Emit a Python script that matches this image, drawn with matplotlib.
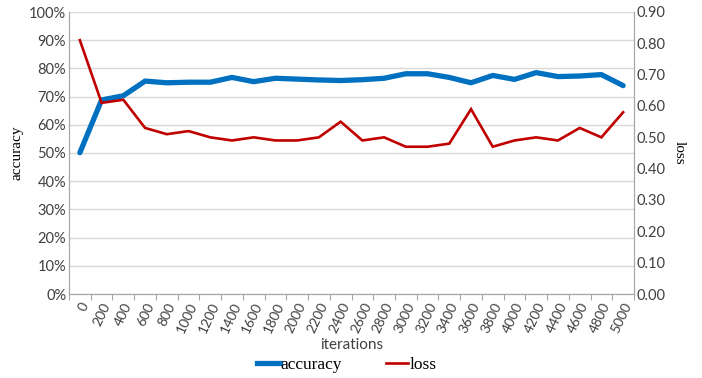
import numpy as np
import matplotlib
matplotlib.use("Agg")
import matplotlib.pyplot as plt
from matplotlib.ticker import FuncFormatter, FixedLocator
from matplotlib.lines import Line2D

# training log, one point every 200 iterations
iterations = list(range(0, 5001, 200))
accuracy = [50.1, 68.8, 70.3, 75.5, 74.9, 75.1, 75.1, 76.8, 75.3, 76.5, 76.2, 75.9, 75.7,
            76.0, 76.5, 78.1, 78.1, 76.8, 74.9, 77.5, 76.1, 78.5, 77.1, 77.3, 77.8, 73.9]
loss = [0.81, 0.61, 0.62, 0.53, 0.51, 0.52, 0.50, 0.49, 0.50, 0.49, 0.49, 0.50, 0.55,
        0.49, 0.50, 0.47, 0.47, 0.48, 0.59, 0.47, 0.49, 0.50, 0.49, 0.53, 0.50, 0.58]

tick_font = "Lato"
serif_font = "Liberation Serif"
grid_col = "#D9D9D9"
axis_col = "#A6A6A6"
blue = "#0070C0"
red = "#C00000"

fig = plt.figure(figsize=(7.02, 3.78), dpi=100)
ax = fig.add_axes([69 / 702, 1 - 294 / 378, (634 - 69) / 702, (294 - 12) / 378])
ax2 = ax.twinx()

x = np.arange(len(iterations))
ax.plot(x, accuracy, color=blue, lw=3.8, solid_capstyle="round", solid_joinstyle="round", zorder=3)
ax2.plot(x, loss, color=red, lw=1.9, solid_joinstyle="miter", zorder=3)

ax.set_xlim(-0.5, len(iterations) - 0.5)
ax.set_ylim(0, 100)
ax2.set_ylim(0, 0.9)

ax.set_yticks(np.arange(0, 101, 10))
ax.yaxis.set_major_formatter(FuncFormatter(lambda v, p: f"{v:.0f}%"))
ax2.set_yticks(np.arange(0, 0.91, 0.1))
ax2.yaxis.set_major_formatter(FuncFormatter(lambda v, p: f"{v:.2f}"))

ax.set_xticks(x)
ax.set_xticklabels([str(i) for i in iterations], rotation=65, ha="right", va="top",
                   rotation_mode="anchor", fontfamily=tick_font, fontsize=10, color="#404040")
ax.xaxis.set_minor_locator(FixedLocator(np.arange(-0.5, len(iterations), 1)))
ax.tick_params(axis="x", which="major", length=0, pad=5)
ax.tick_params(axis="x", which="minor", length=4, color=axis_col, width=0.8)

for a in (ax, ax2):
    a.tick_params(axis="y", length=0, labelsize=10.5, labelcolor="#404040", pad=2)
    for lbl in a.get_yticklabels():
        lbl.set_fontfamily(tick_font)
    for s in a.spines.values():
        s.set_color(axis_col)
        s.set_linewidth(0.8)
    a.spines["top"].set_visible(False)

ax.yaxis.grid(True, color=grid_col, lw=1.0)
ax.set_axisbelow(True)

ax.set_ylabel("accuracy", fontfamily=serif_font, fontsize=11, labelpad=4)
ax2.set_ylabel("loss", fontfamily=serif_font, fontsize=11, rotation=270, labelpad=14)
ax.set_xlabel("iterations", fontfamily=tick_font, fontsize=11, labelpad=2, color="#404040")

handles = [Line2D([], [], color=blue, lw=3.8), Line2D([], [], color=red, lw=1.9)]
fig.legend(handles, ["accuracy", "loss"], loc="center", bbox_to_anchor=(0.494, 0.034),
           ncol=2, frameon=False, handlelength=1.3, handletextpad=0.05, columnspacing=2.5,
           borderpad=0, prop={"family": serif_font, "size": 12.5})

fig.savefig("out.png", dpi=100)
